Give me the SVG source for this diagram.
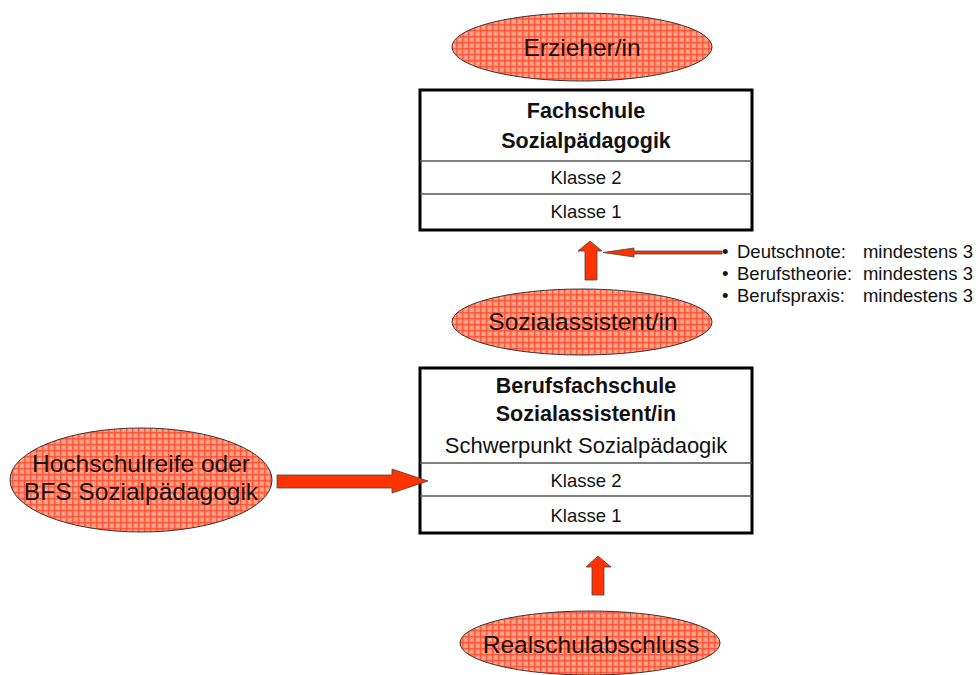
<svg xmlns="http://www.w3.org/2000/svg" width="976" height="675" viewBox="0 0 976 675">
<style>
text{font-family:"Liberation Sans",Arial,sans-serif;fill:#111;}
.ell{fill:url(#grid);stroke:#333;stroke-width:1;}
.box{fill:#fff;stroke:#000;stroke-width:3;}
.row{stroke:#555;stroke-width:1.5;}
.et{font-size:24.5px;text-anchor:middle;}
.bt{font-size:21.5px;font-weight:bold;text-anchor:middle;}
.kt{font-size:18.5px;text-anchor:middle;}
.st{font-size:22px;text-anchor:middle;}
.lt{font-size:18.5px;}
.arr{fill:#ff3300;stroke:#444;stroke-width:0.8;}
</style>
<defs>
<pattern id="grid" width="6" height="6" patternUnits="userSpaceOnUse">
<rect width="6" height="6" fill="#ff9a80"/>
<rect x="0" y="0" width="1.4" height="6" fill="#ff4a2a" opacity="0.8"/>
<rect x="0" y="0" width="6" height="1.4" fill="#ff4a2a" opacity="0.8"/>
<rect x="3.2" y="3.2" width="1" height="1" fill="#fff" opacity="0.8"/>
</pattern>
</defs>
<rect width="976" height="675" fill="#fff"/>

<g id="erzieher">
<ellipse class="ell" cx="582" cy="47" rx="130" ry="34"/>
<text class="et" x="582" y="56">Erzieher/in</text>
</g>

<g id="fachschule">
<rect class="box" x="420" y="90" width="332" height="140"/>
<line class="row" x1="420" y1="161" x2="752" y2="161"/>
<line class="row" x1="420" y1="194" x2="752" y2="194"/>
<text class="bt" x="586" y="118">Fachschule</text>
<text class="bt" x="586" y="148">Sozialpädagogik</text>
<text class="kt" x="586" y="184">Klasse 2</text>
<text class="kt" x="586" y="218">Klasse 1</text>
</g>

<g id="voraussetzungen">
<text class="lt" x="722" y="258">•</text>
<text class="lt" x="737" y="258">Deutschnote:</text>
<text class="lt" x="973" y="258" text-anchor="end">mindestens 3</text>
<text class="lt" x="722" y="280">•</text>
<text class="lt" x="737" y="280">Berufstheorie:</text>
<text class="lt" x="973" y="280" text-anchor="end">mindestens 3</text>
<text class="lt" x="722" y="302">•</text>
<text class="lt" x="737" y="302">Berufspraxis:</text>
<text class="lt" x="973" y="302" text-anchor="end">mindestens 3</text>
</g>

<g id="sozialassistent">
<ellipse class="ell" cx="582" cy="322" rx="130" ry="33"/>
<text class="et" x="583" y="330">Sozialassistent/in</text>
</g>

<g id="berufsfachschule">
<rect class="box" x="420" y="368" width="332" height="165"/>
<line class="row" x1="420" y1="463" x2="752" y2="463"/>
<line class="row" x1="420" y1="496" x2="752" y2="496"/>
<text class="bt" x="586" y="393">Berufsfachschule</text>
<text class="bt" x="586" y="421">Sozialassistent/in</text>
<text class="st" x="586" y="453">Schwerpunkt Sozialpädaogik</text>
<text class="kt" x="586" y="487">Klasse 2</text>
<text class="kt" x="586" y="522">Klasse 1</text>
</g>

<g id="hochschulreife">
<ellipse class="ell" cx="141" cy="480" rx="131" ry="52"/>
<text class="et" x="141" y="472">Hochschulreife oder</text>
<text class="et" x="141" y="500">BFS Sozialpädagogik</text>
</g>

<g id="realschulabschluss">
<ellipse class="ell" cx="590" cy="643" rx="130" ry="32"/>
<text class="et" x="591" y="653">Realschulabschluss</text>
</g>

<g id="connectors">
<polygon class="arr" points="590,241 602,251 597,251 597,280 585,280 585,251 578,251"/>
<polygon class="arr" points="603,252.5 634,248 634,251 722,251 722,254 634,254 634,257"/>
<polygon class="arr" points="277,475 392,475 392,469 428,481 392,493 392,488 277,488"/>
<polygon class="arr" points="598,556 611,567 604,567 604,595 592,595 592,567 586,567"/>
</g>
</svg>
